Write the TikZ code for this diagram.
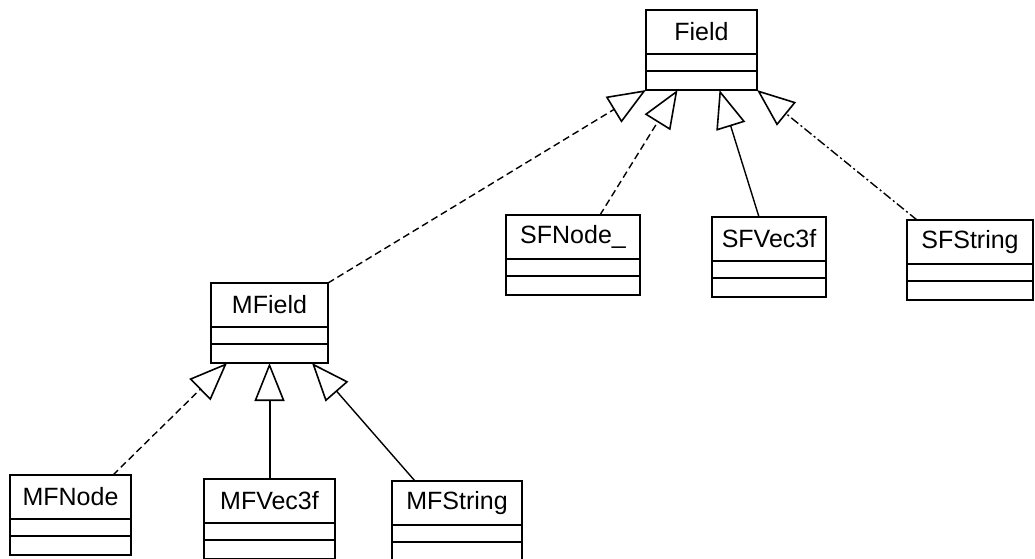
\documentclass[tikz,border=0pt]{standalone}
\usepackage{fontspec}
\setmainfont{Liberation Sans}
\usetikzlibrary{arrows.meta}

\tikzset{
    classtitle/.style={draw, line width=1.8pt, inner sep=0pt, outer sep=0pt,
        minimum height=44pt, font=\fontsize{25}{30}\selectfont},
    classline/.style={line width=1.8pt},
    inherit/.style={line width=1.4pt,
        -{Triangle[open, length=38pt, width=30pt, line width=1.6pt]}},
    dashline/.style={dash pattern=on 7pt off 4pt},
    dashdotline/.style={dash pattern=on 9pt off 3pt on 2pt off 3pt},
}

\begin{document}
\begin{tikzpicture}[x=1pt, y=-1pt]
\useasboundingbox (0,0) rectangle (1035,558);
\clip (0,0) rectangle (1035,558);

% --- MACRO: DRAW CLASS BOX ---
% #1: node name
% #2: left edge
% #3: top edge
% #4: width
% #5: class name
\newcommand{\drawClass}[5]{
    \node[classtitle, minimum width=#4pt, anchor=north west] (#1) at (#2,#3) {#5};
    \draw[classline] (#1.south west) rectangle ++(#4,17);
    \draw[classline] (#1.south west) ++(0,17) rectangle ++(#4,19);
    % bottom of the whole box
    \coordinate (#1-sw) at ([yshift=-36pt]#1.south west);
    \coordinate (#1-s) at ([yshift=-36pt]#1.south);
    \coordinate (#1-se) at ([yshift=-36pt]#1.south east);
}

% --- CLASSES ---
\drawClass{field}{646}{10}{111}{Field}
\drawClass{sfnode}{506}{215}{134}{SFNode\_}
\drawClass{sfvec}{712}{217}{114}{SFVec3f}
\drawClass{sfstring}{907}{220}{126}{SFString}
\drawClass{mfield}{211}{283}{117}{MField}
\drawClass{mfnode}{10}{475}{121}{MFNode}
\drawClass{mfvec}{204}{479}{131}{MFVec3f}
\drawClass{mfstring}{392}{481}{130}{MFString}

% --- GENERALIZATIONS ---
\draw[inherit, dashline] (mfield.north east) -- (field-sw);
\draw[inherit, dashline] ([xshift=27pt]sfnode.north) -- ([xshift=-24pt]field-s);
\draw[inherit] ([xshift=-10pt]sfvec.north) -- ([xshift=18pt]field-s);
\draw[inherit, dashdotline] ([xshift=10pt]sfstring.north west) -- (field-se);
\draw[inherit, dashline] ([xshift=-18pt]mfnode.north east) -- ([xshift=16pt]mfield-sw);
\draw[inherit, line width=2pt] (mfvec.north) -- (mfield-s);
\draw[inherit] ([xshift=23pt]mfstring.north west) -- ([xshift=-16pt]mfield-se);

\end{tikzpicture}
\end{document}
